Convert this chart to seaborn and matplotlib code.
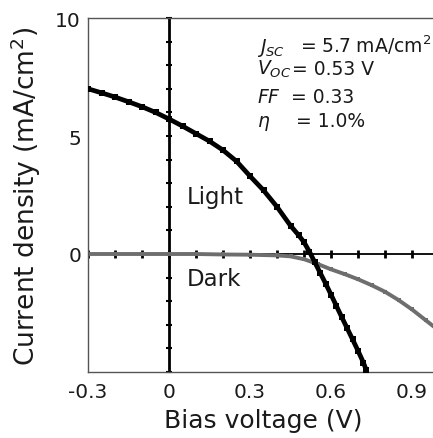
import matplotlib
matplotlib.use("Agg")
import matplotlib.pyplot as plt
import seaborn as sns
import numpy as np
import pandas as pd

# ---- data ----
light_v = [-0.30, -0.25, -0.20, -0.15, -0.10, -0.05, 0.00, 0.05, 0.10, 0.15,
           0.20, 0.25, 0.30, 0.35, 0.40, 0.45, 0.48, 0.50, 0.52, 0.54, 0.56,
           0.58, 0.60, 0.62, 0.64, 0.66, 0.68, 0.70, 0.72, 0.73]
light_j = [7.00, 6.83, 6.65, 6.45, 6.24, 6.00, 5.72, 5.42, 5.10, 4.78,
           4.40, 3.93, 3.30, 2.70, 2.00, 1.20, 0.80, 0.50, 0.10, -0.35, -0.80,
           -1.25, -1.72, -2.20, -2.68, -3.15, -3.62, -4.10, -4.60, -4.90]

dark_v = [-0.30, -0.20, -0.10, 0.00, 0.10, 0.20, 0.30, 0.40, 0.45, 0.50,
          0.55, 0.60, 0.65, 0.70, 0.75, 0.80, 0.85, 0.90, 0.95, 1.00]
dark_j = [0.00, 0.00, 0.00, 0.00, 0.00, -0.02, -0.03, -0.06, -0.10, -0.22,
          -0.42, -0.65, -0.85, -1.07, -1.32, -1.60, -1.95, -2.35, -2.80, -3.25]

x_ticks = [-0.3, 0, 0.3, 0.6, 0.9]
x_tick_labels = ["-0.3", "0", "0.3", "0.6", "0.9"]
y_ticks = [0, 5, 10]
y_tick_labels = ["0", "5", "10"]

param_names = [r"$J_{SC}$", r"$V_{OC}$", r"$FF$", r"$\eta$"]
param_values = ["= 5.7 mA/cm$^2$", "= 0.53 V", "= 0.33", "= 1.0%"]

# ---- styling ----
sns.set_style("white")
plt.rcParams["font.family"] = ["DejaVu Sans"]
plt.rcParams["mathtext.fontset"] = "dejavusans"

W, H = 433, 439
fig = plt.figure(figsize=(W / 100, H / 100), dpi=100)
ax = fig.add_axes([88 / W, (H - 373) / H, (439 - 88) / W, (373 - 19) / H])

light_df = pd.DataFrame({"V": light_v, "J": light_j})
dark_df = pd.DataFrame({"V": dark_v, "J": dark_j})

# axis lines through origin with tick marks
ax.axhline(0, color="black", lw=1.3, zorder=1)
ax.axvline(0, color="black", lw=2.0, zorder=1)
ax.plot(np.zeros(16), np.arange(-5, 11), ls="none", marker="_", ms=4,
        mew=1.5, color="black", zorder=1, clip_on=False)
ax.plot(np.round(np.arange(-0.3, 1.01, 0.1), 2), np.zeros(14), ls="none",
        marker="|", ms=5.5, mew=2.0, color="black", zorder=1)

sns.lineplot(data=dark_df, x="V", y="J", ax=ax, color="#6e6e6e", lw=2.8,
             marker="s", markersize=2.5, markeredgewidth=0, zorder=2)
sns.lineplot(data=light_df, x="V", y="J", ax=ax, color="black", lw=3.4,
             marker="s", markersize=4, markeredgewidth=0, zorder=3)

ax.set_xlim(-0.3, 1.0)
ax.set_ylim(-5, 10)
ax.set_xticks(x_ticks)
ax.set_xticklabels(x_tick_labels)
ax.set_yticks(y_ticks)
ax.set_yticklabels(y_tick_labels)
ax.tick_params(length=0, labelsize=14.5, colors="#1a1a1a")
ax.tick_params(axis="x", pad=7)
ax.tick_params(axis="y", pad=5)
for s in ["left", "top", "bottom"]:
    ax.spines[s].set_color("#555555")
    ax.spines[s].set_linewidth(1.0)
ax.spines["right"].set_visible(False)

ax.set_xlabel("Bias voltage (V)", fontsize=18, color="#1a1a1a", labelpad=5)
ax.set_ylabel("Current density (mA/cm$^2$)", fontsize=19, color="#1a1a1a",
              labelpad=9)

ax.text(0.067, 2.16, "Light", fontsize=16.5, color="#1a1a1a", va="baseline")
ax.text(0.067, -1.31, "Dark", fontsize=16.5, color="#1a1a1a", va="baseline")

base_y = [53, 75, 103, 127]
eq_x = [300, 292, 291, 296]
for name, val, by, ex in zip(param_names, param_values, base_y, eq_x):
    fig.text(257 / W, 1 - by / H, name, fontsize=13.5, color="#1a1a1a",
             va="baseline")
    fig.text(ex / W, 1 - by / H, val, fontsize=13.5, color="#1a1a1a",
             va="baseline")

fig.savefig("out.png", dpi=100)
